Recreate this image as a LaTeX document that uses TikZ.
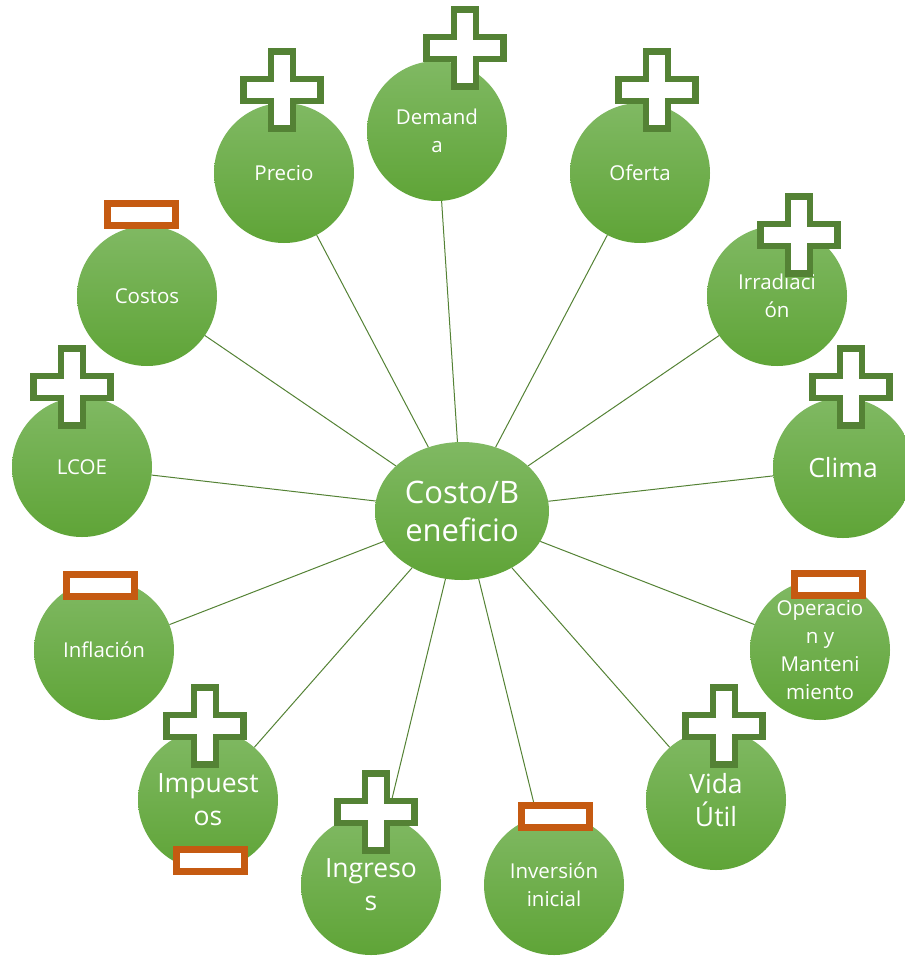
\documentclass[tikz,border=0pt]{standalone}
\usepackage{fontspec}
\setmainfont{Open Sans}
\usetikzlibrary{shapes.geometric}
\definecolor{bubtop}{HTML}{80B963}
\definecolor{bubbot}{HTML}{5FA437}
\definecolor{plusgreen}{HTML}{548235}
\definecolor{minusorange}{HTML}{C55A11}
\begin{document}
\begin{tikzpicture}[x=1pt,y=-1pt,
	bubble/.style={circle,minimum size=140pt,inner sep=0pt,top color=bubtop,bottom color=bubbot,
		text=white,align=center,font=\fontsize{20.5}{28}\selectfont},
	bigtext/.style={font=\fontsize{26.5}{33}\selectfont},
	spoke/.style={plusgreen,line width=1pt},
	plusbox/.style={draw=plusgreen,line width=6.5pt,fill=white,line join=miter},
	minusbox/.style={draw=minusorange,line width=7pt,fill=white}]
	
	\useasboundingbox (0,0) rectangle (905,956);
	
	\node[ellipse,minimum width=174pt,minimum height=138pt,inner sep=0pt,top color=bubtop,bottom color=bubbot,
		text=white,align=center,font=\fontsize{31}{38}\selectfont] (cb) at (462,511) {Costo/B\\eneficio};
	
	\node[bubble] (dem)  at (437,131) {Demand\\a};
	\node[bubble] (pre)  at (284,173) {Precio};
	\node[bubble] (ofe)  at (640,173) {Oferta};
	\node[bubble] (cos)  at (147,296) {Costos};
	\node[bubble] (irr)  at (777,296) {Irradiaci\\ón};
	\node[bubble] (lcoe) at (82,467)  {LCOE};
	\node[bubble,bigtext] (cli) at (843,468) {Clima};
	\node[bubble] (inf)  at (104,650) {Inflación};
	\node[bubble] (oym)  at (820,650) {Operacio\\n y\\Manteni\\miento};
	\node[bubble,bigtext] (imp) at (208,800) {Impuest\\os};
	\node[bubble,bigtext] (vid) at (716,800) {Vida\\Útil};
	\node[bubble,bigtext] (ing) at (371,885) {Ingreso\\s};
	\node[bubble] (inv)  at (554,885) {Inversión\\inicial};
	
	\foreach \n in {dem,pre,ofe,cos,irr,lcoe,cli,inf,oym,imp,vid,ing,inv}
		\draw[spoke] (cb) -- (\n);
	
	% signos mas
	\foreach \x/\y in {465/48,282/90,657/90,799/235,72/387,851/387,205/726,724/726,376/812}
		\draw[plusbox,shift={(\x,\y)}] (-11,-38.5) -- (11,-38.5) -- (11,-11) -- (38.5,-11) -- (38.5,11)
			-- (11,11) -- (11,38.5) -- (-11,38.5) -- (-11,11) -- (-38.5,11) -- (-38.5,-11) -- (-11,-11) -- cycle;
	
	% signos menos
	\foreach \x/\y in {141/214,100/585,828/584,210/860,555/816}
		\draw[minusbox,shift={(\x,\y)}] (-34,-11) rectangle (34,11);
\end{tikzpicture}
\end{document}
